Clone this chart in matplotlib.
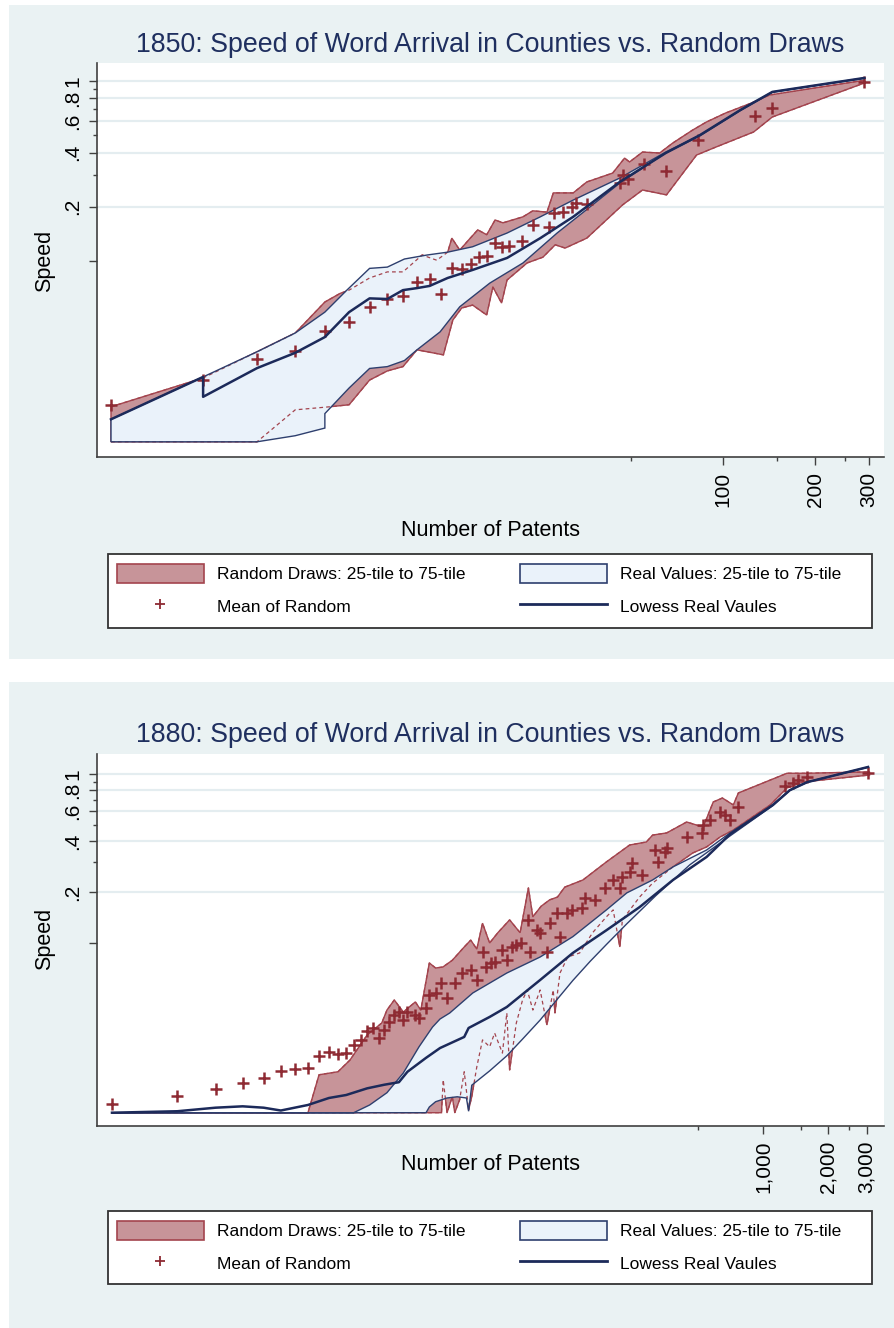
import matplotlib.pyplot as plt
from matplotlib.patches import Rectangle, Patch
from matplotlib.lines import Line2D
from matplotlib.ticker import FixedLocator, FixedFormatter, NullFormatter

plt.rcParams['font.family'] = ['Liberation Sans', 'DejaVu Sans']

# ---------------- 1850 ----------------
n1850_mean = [1, 2, 3, 4, 5, 6, 7, 8, 9, 10, 11, 12, 13, 14, 15, 16, 17, 18, 19, 20,
              22, 24, 27, 28, 30, 32, 33, 36, 46, 47, 49, 55, 65, 83, 127, 145, 290]
y1850_mean = [0.0158, 0.0218, 0.0286, 0.0316, 0.0408, 0.0458, 0.0555, 0.0615, 0.064, 0.0764,
              0.0794, 0.0656, 0.0914, 0.0903, 0.0962, 0.105, 0.107, 0.126, 0.12, 0.121,
              0.129, 0.158, 0.154, 0.185, 0.187, 0.2, 0.21, 0.207, 0.27, 0.30, 0.285,
              0.346, 0.316, 0.47, 0.64, 0.71, 0.99]

n1850_rand_hi = [1, 2, 3, 4, 5, 5.6, 6, 7, 8, 9, 10.4, 11.6, 12.6, 13, 13.8, 14.7, 15.8, 16.9,
                 18, 19.1, 22.2, 23.9, 26.6, 27.9, 32.4, 35.9, 43.6, 47.7, 49.5, 54.6, 62.1,
                 68.5, 79.6, 88.3, 102, 124, 142, 290]
y1850_rand_hi = [0.0155, 0.0224, 0.0313, 0.0398, 0.0592, 0.066, 0.0689, 0.0805, 0.087, 0.087,
                 0.108, 0.101, 0.112, 0.134, 0.115, 0.130, 0.149, 0.140, 0.169, 0.163, 0.176,
                 0.190, 0.187, 0.239, 0.239, 0.275, 0.308, 0.373, 0.355, 0.403, 0.398, 0.452,
                 0.534, 0.592, 0.664, 0.755, 0.836, 1.01]
n1850_rand_lo = [1, 3, 4, 5.2, 6, 7, 8, 9, 10, 12.2, 13.1, 14, 15.2, 16.9, 17.7, 18.9, 19.7,
                 22.9, 25.8, 28.3, 30.5, 35.9, 47, 54.6, 65.4, 82, 95, 126, 145, 290]
y1850_rand_lo = [0.0099, 0.0099, 0.0149, 0.0155, 0.0159, 0.0218, 0.0245, 0.0259, 0.0321, 0.0301,
                 0.047, 0.0548, 0.0569, 0.0501, 0.0717, 0.0584, 0.0784, 0.0975, 0.105, 0.123,
                 0.118, 0.134, 0.205, 0.248, 0.233, 0.388, 0.430, 0.521, 0.631, 0.975]

n1850_real_hi = [1, 2, 3, 4, 5, 5.9, 7, 8, 9.1, 10.8, 12.6, 15.2, 19.7, 25.3, 32.4, 46, 65,
                 84, 114, 145, 290]
y1850_real_hi = [0.0132, 0.0227, 0.0313, 0.0398, 0.052, 0.0689, 0.091, 0.0925, 0.1026, 0.108,
                 0.112, 0.12, 0.143, 0.176, 0.218, 0.289, 0.403, 0.50, 0.69, 0.87, 1.04]
n1850_real_lo = [1, 3, 4, 5, 5, 6, 7, 8, 9.1, 10, 11.9, 13.8, 17.3, 22.2, 28.7, 36.8, 46, 65,
                 84, 114, 145, 290]
y1850_real_lo = [0.0099, 0.0099, 0.0107, 0.0118, 0.0142, 0.0197, 0.0253, 0.0259, 0.028, 0.0321,
                 0.0404, 0.0557, 0.0754, 0.0975, 0.143, 0.2, 0.271, 0.398, 0.495, 0.685,
                 0.865, 1.035]

n1850_lowess = [1, 2, 2, 3, 4, 5, 6, 7, 8, 9, 10, 11, 12.6, 15.2, 19.7, 25.3, 32.4, 46, 65,
                84, 114, 145, 290]
y1850_lowess = [0.0132, 0.0227, 0.0176, 0.0254, 0.0309, 0.0378, 0.052, 0.062, 0.0615, 0.0689,
                0.0707, 0.0727, 0.0805, 0.0892, 0.104, 0.134, 0.176, 0.275, 0.398, 0.50,
                0.69, 0.87, 1.04]

# ---------------- 1880 ----------------
n1880_mean = [1, 2, 3, 4, 5, 6, 7, 8, 9, 10, 11, 12, 13, 14, 15, 16, 17, 18, 19, 20, 21, 22,
              23, 25, 26, 28, 29, 31, 33, 35, 38, 41, 45, 48, 51, 53, 56, 58, 63, 66, 70, 73,
              77, 83, 84, 91, 94, 101, 104, 112, 116, 125, 132, 147, 151, 168, 187, 204, 219,
              224, 244, 249, 277, 318, 328, 353, 361, 447, 524, 529, 570, 634, 668, 705, 767,
              1262, 1374, 1449, 1594, 3050]
y1880_mean = [0.0111, 0.0124, 0.0137, 0.0149, 0.0159, 0.0175, 0.018, 0.0182, 0.0214, 0.0226,
              0.022, 0.0223, 0.0249, 0.0267, 0.0301, 0.0314, 0.0274, 0.0305, 0.0341, 0.0375,
              0.039, 0.035, 0.039, 0.0375, 0.036, 0.0412, 0.0492, 0.0506, 0.058, 0.0473, 0.058,
              0.0664, 0.0692, 0.0604, 0.0885, 0.0721, 0.0762, 0.0772, 0.091, 0.0793, 0.0947,
              0.0973, 0.1, 0.137, 0.0885, 0.119, 0.115, 0.0885, 0.131, 0.151, 0.109, 0.151,
              0.157, 0.161, 0.185, 0.18, 0.212, 0.236, 0.212, 0.246, 0.263, 0.297, 0.253,
              0.355, 0.302, 0.345, 0.365, 0.424, 0.448, 0.499, 0.535, 0.596, 0.572, 0.535,
              0.638, 0.849, 0.885, 0.921, 0.96, 1.01]

n1880_rand_hi = [1, 8, 9, 11, 12.5, 15, 17.5, 18.5, 20, 22, 25, 26.5, 29, 31, 33.5, 37, 42, 45,
                 48, 51, 55, 60, 68, 76, 83, 87, 95, 104, 113, 122, 148, 190, 243, 290, 310,
                 360, 445, 530, 590, 650, 730, 770, 1290, 1600, 3100]
y1880_rand_hi = [0.0099, 0.0099, 0.0166, 0.0173, 0.0203, 0.0286, 0.0336, 0.0401, 0.046, 0.039,
                 0.0448, 0.0401, 0.0762, 0.0711, 0.0721, 0.079, 0.0947, 0.104, 0.092, 0.131,
                 0.1, 0.115, 0.137, 0.115, 0.212, 0.143, 0.165, 0.18, 0.187, 0.214, 0.236,
                 0.302, 0.38, 0.396, 0.435, 0.448, 0.52, 0.485, 0.683, 0.721, 0.656, 0.772,
                 1.01, 1.01, 1.03]
n1880_rand_lo = [1, 33, 33.6, 35, 37, 38, 40, 42, 44, 45.5, 48, 51, 55, 58, 63, 66, 68, 73, 78,
                 82, 87, 94, 101, 108, 110, 116, 126, 143, 164, 190, 204, 219, 225, 270, 310,
                 385, 475, 550, 635, 730, 1080, 1290, 1530, 3100]
y1880_rand_lo = [0.0099, 0.0099, 0.0155, 0.0099, 0.0123, 0.0099, 0.0118, 0.0173, 0.0103, 0.0123,
                 0.0185, 0.0267, 0.0243, 0.0293, 0.0223, 0.0385, 0.0177, 0.0336, 0.046,
                 0.0527, 0.0401, 0.0527, 0.0327, 0.0527, 0.0385, 0.0664, 0.0826, 0.0873,
                 0.115, 0.143, 0.157, 0.0947, 0.137, 0.187, 0.226, 0.282, 0.341, 0.37, 0.424,
                 0.466, 0.656, 0.826, 0.897, 0.986]

n1880_real_hi = [1, 13, 15.4, 18.5, 22, 26, 30, 32.5, 36, 46, 66, 94, 133, 190, 236, 310, 385,
                 550, 705, 1110, 1330, 1600, 3050]
y1880_real_hi = [0.0099, 0.0099, 0.011, 0.013, 0.017, 0.0243, 0.0318, 0.0355, 0.0385, 0.0506,
                 0.0664, 0.0826, 0.109, 0.157, 0.198, 0.236, 0.282, 0.355, 0.448, 0.657,
                 0.804, 0.897, 1.1]
n1880_real_lo = [1, 28, 29, 31, 35, 39, 43, 44, 45.5, 55, 66, 78, 94, 112, 133, 160, 190, 236,
                 320, 460, 705, 1110, 1330, 1600, 3050]
y1880_real_lo = [0.0099, 0.0099, 0.0107, 0.0115, 0.0121, 0.0123, 0.0121, 0.0101, 0.0144, 0.0175,
                 0.0215, 0.027, 0.035, 0.046, 0.06, 0.078, 0.098, 0.13, 0.19, 0.29, 0.43,
                 0.65, 0.80, 0.893, 1.095]

n1880_lowess = [1, 2, 3, 4, 5, 6, 8, 10, 12, 15, 18, 21, 23, 28, 32.5, 42, 44, 55, 66, 94,
                133, 190, 270, 385, 550, 705, 1110, 1330, 1600, 3050]
y1880_lowess = [0.0099, 0.0101, 0.0106, 0.0108, 0.0106, 0.0102, 0.011, 0.0121, 0.0126, 0.0138,
                0.0145, 0.015, 0.0173, 0.0209, 0.0239, 0.0278, 0.0314, 0.0365, 0.0418, 0.0604,
                0.0873, 0.119, 0.163, 0.236, 0.323, 0.44, 0.655, 0.802, 0.895, 1.1]

# axis ticks
y_ticks = [0.1, 0.2, 0.4, 0.6, 0.8, 1]
y_tick_labels = ['', '.2', '.4', '.6', '.8', '1']
y_minor = [0.3, 0.5, 0.7, 0.9]
y_grid = [0.2, 0.4, 0.6, 0.8, 1]
x1850_ticks = [100, 200, 300]
x1850_labels = ['100', '200', '300']
x1850_minor = [50, 150, 250]
x1880_ticks = [1000, 2000, 3000]
x1880_labels = ['1,000', '2,000', '3,000']
x1880_minor = [500, 1500, 2500]

legend_labels = ['Random Draws: 25-tile to 75-tile', 'Mean of Random',
                 'Real Values: 25-tile to 75-tile', 'Lowess Real Vaules']

BG = '#EAF2F3'
RED_FILL = '#C79499'
RED_EDGE = '#A3444E'
RED_MARK = '#8E2A33'
BLUE_FILL = '#EAF2FA'
NAVY_EDGE = '#2E3F6E'
NAVY = '#1C2A5A'
TITLE = '#1F2F5F'
AXIS = '#404040'
GRID = '#E4EDF0'

W, H = 895, 1328
fig = plt.figure(figsize=(W / 100, H / 100), dpi=100)


def fx(px):
    return px / W


def fy(py):
    return 1 - py / H


def band(up_n, up_y, dn_n, dn_y):
    return list(up_n) + list(dn_n)[::-1], list(up_y) + list(dn_y)[::-1]


def panel(ax, d, xlim, ylim, xt, xl, xm):
    rx, ry = band(d['rand_hi'][0], d['rand_hi'][1], d['rand_lo'][0], d['rand_lo'][1])
    bx, by = band(d['real_hi'][0], d['real_hi'][1], d['real_lo'][0], d['real_lo'][1])
    ax.fill(rx, ry, facecolor=RED_FILL, edgecolor=RED_EDGE, lw=1.0, zorder=1)
    ax.fill(bx, by, facecolor=BLUE_FILL, edgecolor='none', zorder=2)
    for key in ('rand_hi', 'rand_lo'):
        ax.plot(*d[key], color=RED_EDGE, lw=0.9, ls=(0, (3, 2.5)), zorder=3)
    ax.fill(bx, by, facecolor='none', edgecolor=NAVY_EDGE, lw=1.0, zorder=4)
    ax.plot(*d['mean'], ls='none', marker='+', ms=8, mew=1.8, color=RED_MARK, zorder=5)
    ax.plot(*d['lowess'], color=NAVY, lw=1.8, zorder=6)

    ax.set_xscale('log')
    ax.set_yscale('log')
    ax.set_xlim(*xlim)
    ax.set_ylim(*ylim)
    for v in y_grid:
        ax.axhline(v, color=GRID, lw=1.6, zorder=0)

    for s in ('top', 'right'):
        ax.spines[s].set_visible(False)
    for s in ('left', 'bottom'):
        ax.spines[s].set_color(AXIS)
        ax.spines[s].set_linewidth(1.2)

    ax.yaxis.set_major_locator(FixedLocator(y_ticks))
    ax.yaxis.set_major_formatter(FixedFormatter(y_tick_labels))
    ax.yaxis.set_minor_locator(FixedLocator(y_minor))
    ax.yaxis.set_minor_formatter(NullFormatter())
    ax.xaxis.set_major_locator(FixedLocator(xt))
    ax.xaxis.set_major_formatter(FixedFormatter(xl))
    ax.xaxis.set_minor_locator(FixedLocator(xm))
    ax.xaxis.set_minor_formatter(NullFormatter())

    ax.tick_params(which='major', length=5.5, width=1, color=AXIS, labelsize=15, pad=5)
    ax.tick_params(which='minor', length=3, width=1, color=AXIS)
    plt.setp(ax.get_yticklabels(), rotation=90, va='center', ha='right')
    plt.setp(ax.get_xticklabels(), rotation=90, ha='center', va='top')


def legend_box(top, bottom):
    fig.add_artist(Rectangle((fx(108), fy(bottom)), fx(872) - fx(108), fy(top) - fy(bottom),
                             transform=fig.transFigure, facecolor='white',
                             edgecolor='#333333', lw=1.3, zorder=1))
    handles = [
        Patch(facecolor=RED_FILL, edgecolor=RED_EDGE, lw=1.2),
        Line2D([], [], ls='none', marker='+', ms=7, mew=1.3, color=RED_MARK),
        Patch(facecolor=BLUE_FILL, edgecolor=NAVY_EDGE, lw=1.2),
        Line2D([], [], color=NAVY, lw=2),
    ]
    fig.legend(handles, legend_labels, ncol=2, loc='upper left',
               bbox_to_anchor=(fx(117), fy(top + 10)), frameon=False, fontsize=12.5,
               handlelength=5, handleheight=1.32, handletextpad=0.75, columnspacing=3.15,
               labelspacing=0.78, borderpad=0, borderaxespad=0, numpoints=1)


# panel backgrounds
for y0, y1 in ((5, 659), (682, 1328)):
    fig.add_artist(Rectangle((fx(9), fy(y1)), fx(895) - fx(9), fy(y0) - fy(y1),
                             transform=fig.transFigure, facecolor=BG, edgecolor='none',
                             zorder=-2))

data1850 = {'mean': (n1850_mean, y1850_mean),
            'rand_hi': (n1850_rand_hi, y1850_rand_hi), 'rand_lo': (n1850_rand_lo, y1850_rand_lo),
            'real_hi': (n1850_real_hi, y1850_real_hi), 'real_lo': (n1850_real_lo, y1850_real_lo),
            'lowess': (n1850_lowess, y1850_lowess)}
data1880 = {'mean': (n1880_mean, y1880_mean),
            'rand_hi': (n1880_rand_hi, y1880_rand_hi), 'rand_lo': (n1880_rand_lo, y1880_rand_lo),
            'real_hi': (n1880_real_hi, y1880_real_hi), 'real_lo': (n1880_real_lo, y1880_real_lo),
            'lowess': (n1880_lowess, y1880_lowess)}

ax1 = fig.add_axes([fx(97), fy(457), fx(884) - fx(97), fy(63) - fy(457)])
panel(ax1, data1850, (0.90, 336), (0.00815, 1.259), x1850_ticks, x1850_labels, x1850_minor)
ax2 = fig.add_axes([fx(97), fy(1126), fx(884) - fx(97), fy(754) - fy(1126)])
panel(ax2, data1880, (0.853, 3612), (0.00826, 1.313), x1880_ticks, x1880_labels, x1880_minor)

fig.text(fx(490), fy(45), '1850: Speed of Word Arrival in Counties vs. Random Draws',
         ha='center', va='center', fontsize=19.3, color=TITLE)
fig.text(fx(490), fy(735), '1880: Speed of Word Arrival in Counties vs. Random Draws',
         ha='center', va='center', fontsize=19.3, color=TITLE)
for yc in (261, 939):
    fig.text(fx(45), fy(yc), 'Speed', rotation=90, ha='center', va='center', fontsize=15.5)
for yc in (530, 1165):
    fig.text(fx(491), fy(yc), 'Number of Patents', ha='center', va='center', fontsize=15.5)

legend_box(554, 628)
legend_box(1211, 1284)

fig.savefig('out.png', dpi=100)
